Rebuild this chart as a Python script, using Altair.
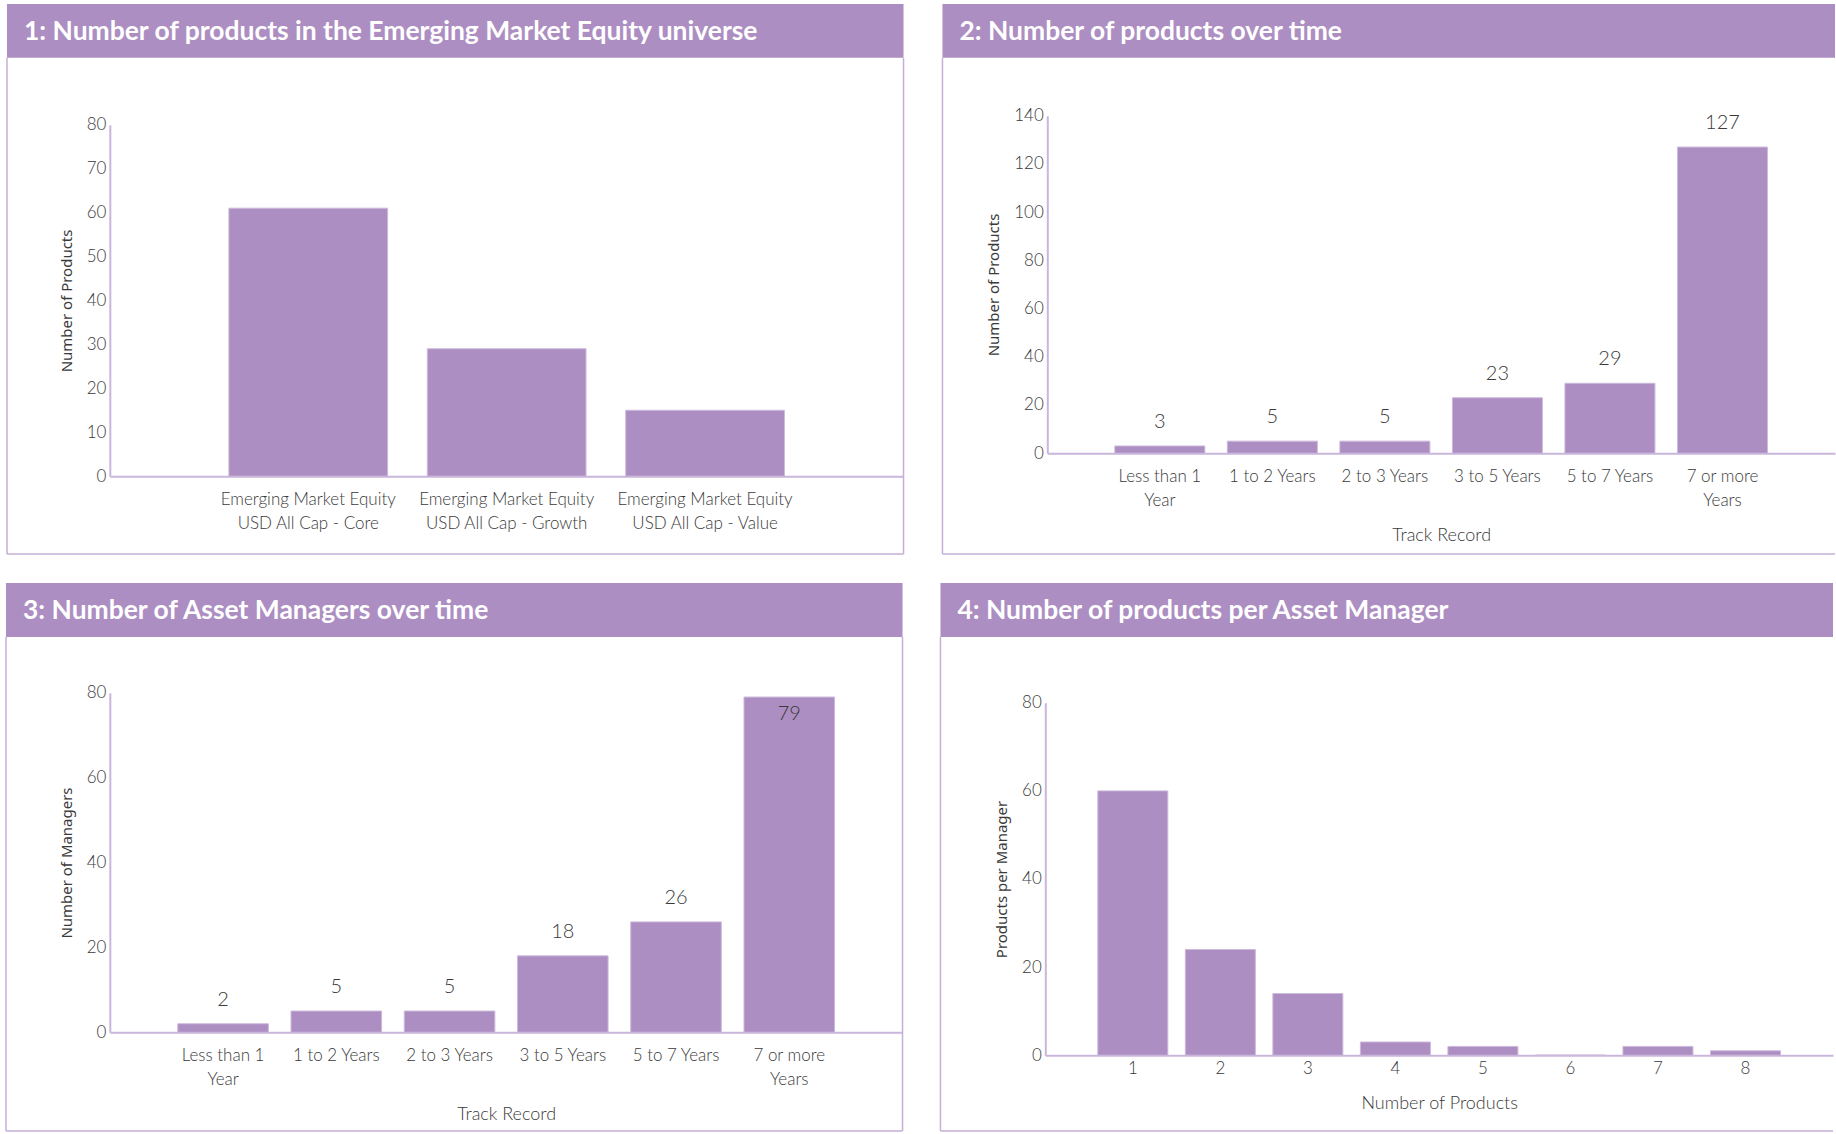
import altair as alt
import pandas as pd

# ---------------- data ----------------
p1_title = "1: Number of products in the Emerging Market Equity universe"
p1_categories = ["Emerging Market Equity\nUSD All Cap - Core",
                 "Emerging Market Equity\nUSD All Cap - Growth",
                 "Emerging Market Equity\nUSD All Cap - Value"]
p1_values = [61, 29, 15]

p2_title = "2: Number of products over time"
p2_categories = ["Less than 1\nYear", "1 to 2 Years", "2 to 3 Years",
                 "3 to 5 Years", "5 to 7 Years", "7 or more\nYears"]
p2_values = [3, 5, 5, 23, 29, 127]

p3_title = "3: Number of Asset Managers over time"
p3_categories = p2_categories
p3_values = [2, 5, 5, 18, 26, 79]

p4_title = "4: Number of products per Asset Manager"
p4_categories = ["1", "2", "3", "4", "5", "6", "7", "8"]
p4_values = [60, 24, 14, 3, 2, 0, 2, 1]

# ---------------- style ----------------
BAR = "#AD8EC2"
HDR = "#AD8EC2"
BORDER = "#C4AFD7"
AXISC = "#C9B6DC"
TXT = "#3a3a3a"
LBL_FONT = "Lato"
TITLE_FONT = "Lato"
AX_TITLE_FONT = "Noto Sans"
HDR_H = 54


def panel(cats, vals, title, ytitle, xtitle, ymax, ystep, W, H, ytop,
          hdr_top, box_left, box_bottom, right_border, label_pad, show_values):
    df = pd.DataFrame({"cat": cats, "val": vals})
    xaxis = alt.Axis(title=xtitle, labelExpr="split(datum.value, '\\n')", labelAngle=0,
                     labelFont=LBL_FONT, labelFontWeight=300, labelFontSize=17,
                     labelColor=TXT, labelLineHeight=24, labelPadding=label_pad,
                     labelLimit=400, labelOverlap=False,
                     ticks=False, grid=False, domainColor=AXISC, domainWidth=2,
                     titleFont=LBL_FONT, titleFontWeight=300, titleFontSize=18,
                     titleColor=TXT, titlePadding=18)
    yaxis = alt.Axis(title=ytitle, values=list(range(0, ymax + 1, ystep)),
                     ticks=False, grid=False, domainColor=AXISC, domainWidth=2,
                     labelFont=LBL_FONT, labelFontWeight=300, labelFontSize=17,
                     labelColor=TXT, labelPadding=4,
                     titleFont=AX_TITLE_FONT, titleFontSize=15, titleColor="#3a3a3a",
                     titleFontWeight="normal", titlePadding=12)
    xenc = alt.X("cat:N", sort=cats,
                 scale=alt.Scale(paddingInner=0.2, paddingOuter=0.6), axis=xaxis)
    yenc = alt.Y("val:Q", scale=alt.Scale(domain=[0, ymax], nice=False, range=[H, ytop]),
                 axis=yaxis)

    one = pd.DataFrame({"t": [title]})
    hdr = alt.Chart(one).mark_rect(color=HDR).encode(
        x=alt.value(box_left), x2=alt.value(W),
        y=alt.value(hdr_top), y2=alt.value(hdr_top + HDR_H))
    htxt = alt.Chart(one).mark_text(align="left", baseline="middle", font=TITLE_FONT,
                                    fontSize=26.5, fontWeight="bold", color="white").encode(
        x=alt.value(box_left + 17), y=alt.value(hdr_top + HDR_H / 2 + 1), text="t:N")
    left = alt.Chart(one).mark_rule(color=BORDER, strokeWidth=1.5).encode(
        x=alt.value(box_left), y=alt.value(hdr_top + HDR_H), y2=alt.value(box_bottom))
    bottom = alt.Chart(one).mark_rule(color=BORDER, strokeWidth=1.5).encode(
        x=alt.value(box_left), x2=alt.value(W), y=alt.value(box_bottom))
    layers = [hdr, left, bottom]
    if right_border:
        layers.append(alt.Chart(one).mark_rule(color=BORDER, strokeWidth=1.5).encode(
            x=alt.value(W), y=alt.value(hdr_top + HDR_H), y2=alt.value(box_bottom)))
    bars = alt.Chart(df).mark_bar(color=BAR, stroke="#CDBADC", strokeWidth=1).encode(
        x=xenc, y=yenc)
    layers += [bars, htxt]
    if show_values:
        thr = 0.95 * ymax
        out = alt.Chart(df).transform_filter(f"datum.val <= {thr}").mark_text(
            baseline="middle", dy=-24, font=LBL_FONT, fontWeight=300, fontSize=20,
            color=TXT).encode(x=alt.X("cat:N", sort=cats), y="val:Q", text="val:Q")
        ins = alt.Chart(df).transform_filter(f"datum.val > {thr}").mark_text(
            baseline="middle", dy=17, font=LBL_FONT, fontWeight=300, fontSize=20,
            color=TXT).encode(x=alt.X("cat:N", sort=cats), y="val:Q", text="val:Q")
        layers += [out, ins]
    return alt.layer(*layers).properties(width=W, height=H)


# row 1: plot origin at y=124 ; row 2: plot origin at y=702.6
p1 = panel(p1_categories, p1_values, p1_title, "Number of Products", None, 80, 10,
           W=795, H=352, ytop=0, hdr_top=-121, box_left=-103, box_bottom=430,
           right_border=True, label_pad=15, show_values=False)
p2 = panel(p2_categories, p2_values, p2_title, "Number of Products", "Track Record", 140, 20,
           W=789, H=329, ytop=-9, hdr_top=-121, box_left=-105, box_bottom=430,
           right_border=False, label_pad=15, show_values=True)
p3 = panel(p3_categories, p3_values, p3_title, "Number of Managers", "Track Record", 80, 20,
           W=794, H=330, ytop=-10, hdr_top=-120, box_left=-104, box_bottom=429,
           right_border=True, label_pad=15, show_values=True)
p4 = panel(p4_categories, p4_values, p4_title, "Products per Manager", "Number of Products", 80, 20,
           W=789, H=353, ytop=0, hdr_top=-120, box_left=-105, box_bottom=429,
           right_border=False, label_pad=5, show_values=False)

chart = alt.vconcat(
    alt.hconcat(p1, p2, spacing=37),
    alt.hconcat(p3, p4, spacing=36),
    spacing=28,
).properties(
    padding={"left": 5, "top": 3, "right": 0, "bottom": 0},
    background="white",
).configure_view(stroke=None)

chart.save("out.html", embed_options={"renderer": "svg", "actions": False})
